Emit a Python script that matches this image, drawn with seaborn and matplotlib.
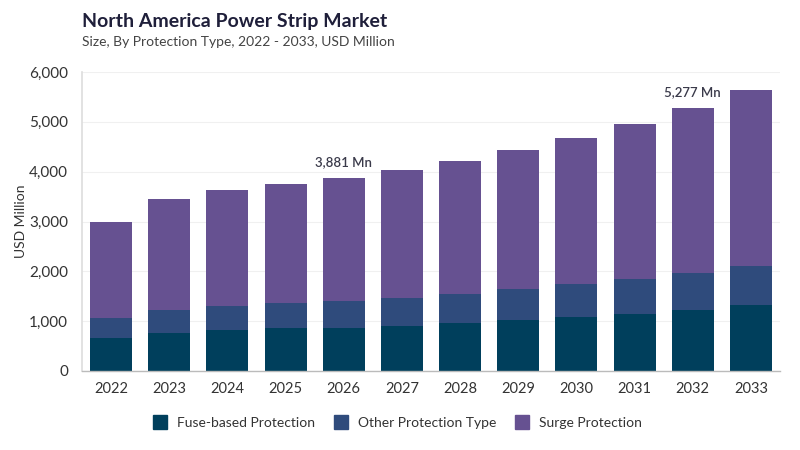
import matplotlib
matplotlib.use("Agg")
import matplotlib.pyplot as plt
import seaborn as sns
import pandas as pd
import numpy as np
from matplotlib.lines import Line2D

years = ["2022", "2023", "2024", "2025", "2026", "2027", "2028", "2029", "2030", "2031", "2032", "2033"]
fuse = [669, 769, 817, 857, 870, 910, 964, 1018, 1078, 1145, 1219, 1319]
other = [395, 462, 494, 502, 542, 562, 588, 622, 663, 702, 755, 795]
totals = [2986, 3454, 3628, 3749, 3881, 4036, 4223, 4431, 4679, 4960, 5277, 5643]
surge = [t - f - o for t, f, o in zip(totals, fuse, other)]
series_names = ["Fuse-based Protection", "Other Protection Type", "Surge Protection"]
colors = ["#003f5c", "#2f4b7c", "#665191"]
annotated = {"2026": "3,881 Mn", "2032": "5,277 Mn"}
yticks = [0, 1000, 2000, 3000, 4000, 5000, 6000]

sns.set_theme(style="white")
plt.rcParams['font.family'] = ['Lato', 'DejaVu Sans']

df = pd.DataFrame({"year": years, "fuse": fuse, "other": other, "surge": surge})
df["c1"] = df["fuse"]
df["c2"] = df["fuse"] + df["other"]
df["c3"] = df["c2"] + df["surge"]

fig = plt.figure(figsize=(8, 4.5), dpi=100)
ax = fig.add_axes([82/800, 79/450, 698/800, 299/450])

for col, c in zip(["c3", "c2", "c1"], [colors[2], colors[1], colors[0]]):
    sns.barplot(data=df, x="year", y=col, color=c, width=0.72, ax=ax,
                saturation=1, edgecolor="none", linewidth=0)

ax.set_xlim(-0.5, 11.5)
ax.set_ylim(0, 6000)
ax.set_yticks(yticks)
ax.set_yticklabels([f"{v:,}" for v in yticks], fontsize=11, color="#333333")
ax.tick_params(axis="x", labelsize=10.5, colors="#333333", length=0, pad=8)
ax.tick_params(axis="y", length=0, pad=10)
ax.set_xlabel("")
ax.set_ylabel("")
ax.grid(axis="y", color="#f0f0f0", linewidth=0.8)
ax.set_axisbelow(True)
for s in ["top", "right"]:
    ax.spines[s].set_visible(False)
ax.spines["left"].set_color("#dddddd")
ax.spines["left"].set_linewidth(1.2)
ax.spines["bottom"].set_color("#bbbbbb")
ax.spines["bottom"].set_linewidth(1)

fig.text(21/800, 1 - 221/450, "USD Million", rotation=90, fontsize=10, color="#333333",
         ha="center", va="center")

for i, y in enumerate(years):
    if y in annotated:
        ax.annotate(annotated[y], (i, totals[i]), xytext=(0, 7), textcoords="offset points",
                    ha="center", va="bottom", fontsize=9.5, color="#3a3a4a", fontweight="semibold")

fig.text(82/800, 1 - 22/450, "North America Power Strip Market", fontsize=14,
         fontweight="bold", color="#1f1f3a", ha="left", va="center")
fig.text(82/800, 1 - 42/450, "Size, By Protection Type, 2022 - 2033, USD Million", fontsize=10,
         color="#444444", ha="left", va="center")

handles = [Line2D([0], [0], marker="s", linestyle="none", markersize=10.5,
                  markerfacecolor=c, markeredgecolor=c) for c in colors]
fig.legend(handles, series_names, loc="center", bbox_to_anchor=(394/800, 1 - 423/450),
           ncol=3, frameon=False, fontsize=10, handletextpad=0.2, columnspacing=0.9,
           labelcolor="#333333")

fig.savefig("out.png", dpi=100)
